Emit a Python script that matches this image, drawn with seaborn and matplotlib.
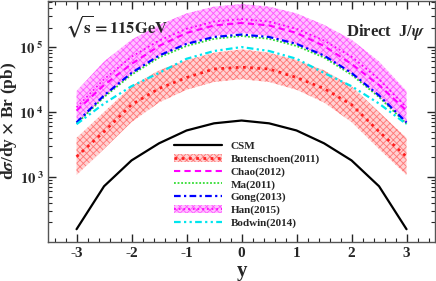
import matplotlib
matplotlib.use("Agg")
import seaborn as sns
from matplotlib import pyplot as plt
from matplotlib.patches import Patch
from matplotlib.lines import Line2D
from matplotlib.ticker import MultipleLocator, LogLocator, FixedLocator

rapidity = [-3.0, -2.5, -2.0, -1.5, -1.0, -0.5, 0.0, 0.5, 1.0, 1.5, 2.0, 2.5, 3.0]

csm = [157, 720, 1800, 3300, 5200, 6700, 7400, 6700, 5200, 3300, 1800, 720, 157]

buten_mid = [2050, 5000, 13000, 23000, 34000, 46000, 49000, 46000, 34000, 23000, 13000, 5000, 2050]
buten_low = [1070, 2700, 7000, 14000, 22000, 29000, 32000, 29000, 22000, 14000, 7000, 2700, 1070]
buten_high = [4000, 10000, 25000, 44000, 63000, 82000, 92000, 82000, 63000, 44000, 25000, 10000, 4000]

chao = [10500, 26000, 55000, 104000, 165000, 215000, 235000, 215000, 165000, 104000, 55000, 26000, 10500]
ma = [6600, 17000, 37500, 69000, 104000, 134000, 148000, 134000, 104000, 69000, 37500, 17000, 6600]
gong = [6900, 18000, 40000, 74000, 112000, 143000, 156000, 143000, 112000, 74000, 40000, 18000, 6900]

han_mid = [11800, 32000, 71000, 126000, 191000, 247000, 270000, 247000, 191000, 126000, 71000, 32000, 11800]
han_low = [6600, 17400, 39000, 72000, 111000, 148000, 165000, 148000, 111000, 72000, 39000, 17400, 6600]
han_high = [21000, 60000, 130000, 220000, 330000, 420000, 460000, 420000, 330000, 220000, 130000, 60000, 21000]

bodwin = [6500, 13500, 25000, 40000, 66000, 87000, 100000, 87000, 66000, 40000, 25000, 13500, 6500]

sns.set_style("ticks")
plt.rcParams["font.family"] = ["Liberation Serif", "DejaVu Serif"]
plt.rcParams["font.weight"] = "bold"
plt.rcParams["mathtext.fontset"] = "stix"
plt.rcParams["axes.unicode_minus"] = False
plt.rcParams["hatch.linewidth"] = 0.6

fig = plt.figure(figsize=(4.36, 2.81), dpi=100)
ax = fig.add_axes([0.110, 0.139, 0.888, 0.859])

red = "#ff2020"
magenta = "#ff00ff"
red_face = (1, 0.1, 0.1, 0.2)
red_edge = (1, 0.1, 0.1, 0.5)
mag_face = (1, 0, 1, 0.25)
mag_edge = (1, 0, 1, 0.55)

ax.fill_between(rapidity, han_low, han_high, facecolor=mag_face,
                edgecolor=mag_edge, hatch="xxxxx", linewidth=0)
ax.fill_between(rapidity, buten_low, buten_high, facecolor=red_face,
                edgecolor=red_edge, hatch="xxxxx", linewidth=0)

sns.lineplot(x=rapidity, y=csm, color="black", linewidth=1.6, ax=ax)
sns.lineplot(x=rapidity, y=buten_mid, color=red, linewidth=2.0,
             linestyle=(0, (1, 1.6)), ax=ax)
sns.lineplot(x=rapidity, y=han_mid, color=magenta, linewidth=1.3,
             linestyle=(0, (1, 1.6)), ax=ax)
sns.lineplot(x=rapidity, y=chao, color=magenta, linewidth=1.5,
             linestyle=(0, (3, 2)), ax=ax)
sns.lineplot(x=rapidity, y=ma, color="#33dd33", linewidth=1.3,
             linestyle=(0, (1, 1)), ax=ax)
sns.lineplot(x=rapidity, y=gong, color="#0000ff", linewidth=1.6,
             linestyle=(0, (3, 1.5, 1, 1.5)), ax=ax)
sns.lineplot(x=rapidity, y=bodwin, color="#00e5ee", linewidth=1.6,
             linestyle=(0, (3, 1.5, 1, 1.5, 1, 1.5)), ax=ax)

ax.set_yscale("log")
ax.set_xlim(-3.52, 3.52)
ax.set_ylim(100, 5.2e5)

ax.xaxis.set_major_locator(MultipleLocator(1))
ax.xaxis.set_minor_locator(MultipleLocator(0.2))
ax.yaxis.set_major_locator(FixedLocator([1e3, 1e4, 1e5]))
ax.yaxis.set_minor_locator(LogLocator(base=10, subs=range(2, 10)))
ax.set_yticklabels([r"$\mathbf{10^{\ 3}}$", r"$\mathbf{10^{\ 4}}$", r"$\mathbf{10^{\ 5}}$"])
ax.tick_params(which="both", direction="in", top=True, right=True, labelsize=11)
ax.tick_params(axis="y", labelsize=10.5, pad=3)
ax.tick_params(which="major", length=6, width=1)
ax.tick_params(which="minor", length=3, width=0.8)
for lab in ax.get_xticklabels():
    lab.set_fontweight("bold")
for s in ax.spines.values():
    s.set_linewidth(1.0)
    s.set_color("#555555")

ax.set_xlabel("y", fontsize=15, fontweight="bold")
ax.xaxis.set_label_coords(0.5, -0.08)
ax.set_ylabel(r"d$\sigma$/dy $\times$ Br (pb)", fontsize=12.5, fontweight="bold")
ax.yaxis.set_label_coords(-0.074, 0.5)

ax.text(0.044, 0.895, r"$\sqrt{\mathbf{s}}\mathbf{=115GeV}$", transform=ax.transAxes,
        fontsize=12, va="center", ha="left")
ax.text(0.975, 0.868, r"Direct  J/$\psi$", transform=ax.transAxes,
        fontsize=12, fontweight="bold", va="center", ha="right")

handles = [
    Line2D([], [], color="black", linewidth=1.6),
    (Patch(facecolor=red_face, edgecolor=red_edge, hatch="xxxxx", linewidth=0),
     Line2D([], [], color=red, linewidth=2.0, linestyle=(0, (1, 1.6)))),
    Line2D([], [], color=magenta, linewidth=1.5, linestyle=(0, (3, 2))),
    Line2D([], [], color="#33dd33", linewidth=1.3, linestyle=(0, (1, 1))),
    Line2D([], [], color="#0000ff", linewidth=1.6, linestyle=(0, (3, 1.5, 1, 1.5))),
    (Patch(facecolor=mag_face, edgecolor=mag_edge, hatch="xxxxx", linewidth=0),
     Line2D([], [], color=magenta, linewidth=1.3, linestyle=(0, (1, 1.6)))),
    Line2D([], [], color="#00e5ee", linewidth=1.6, linestyle=(0, (3, 1.5, 1, 1.5, 1, 1.5))),
]
labels = ["CSM", "Butenschoen(2011)", "Chao(2012)", "Ma(2011)", "Gong(2013)",
          "Han(2015)", "Bodwin(2014)"]
ax.legend(handles, labels, loc="upper left", bbox_to_anchor=(0.305, 0.45),
          frameon=False, handlelength=4.3, handleheight=0.8,
          labelspacing=0.22, handletextpad=0.8, borderpad=0.2,
          prop={"weight": "bold", "size": 8})

fig.savefig("out.png", dpi=100)
